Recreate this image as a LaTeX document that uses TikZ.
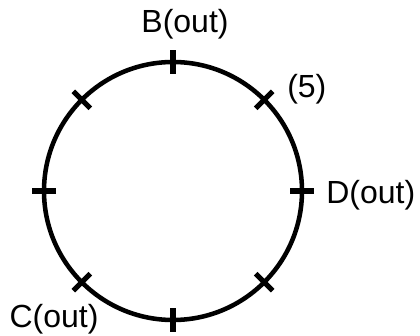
\documentclass[tikz,border=0pt]{standalone}
\usepackage{fontspec}
\setmainfont{Liberation Sans}
\usetikzlibrary{calc,positioning}
\tikzset{
  ring/.style={line width=3.4pt, black},
  tick/.style={line width=3.8pt, black},
  lbl/.style={font=\fontsize{24}{28}\selectfont, inner sep=0pt, text=black},
}

\begin{document}
\begin{tikzpicture}[x=0.75pt, y=0.75pt]
\useasboundingbox (0,0) rectangle (420,335);
\coordinate (o) at (173,144);
\draw[ring] (o) circle (129);

% ticks every 45 degrees
\foreach \a in {0,45,...,315}
  \draw[tick] ($(o)+(\a:117)$) -- ($(o)+(\a:141)$);

\node[lbl] (b) at (185,311) {B(out)};
\node[lbl, anchor=west] (five) at (287,246) {(5)};
\node[lbl, anchor=west] (d) at (326,140) {D(out)};
\node[lbl] (c) at (54,16) {C(out)};
\end{tikzpicture}
\end{document}
